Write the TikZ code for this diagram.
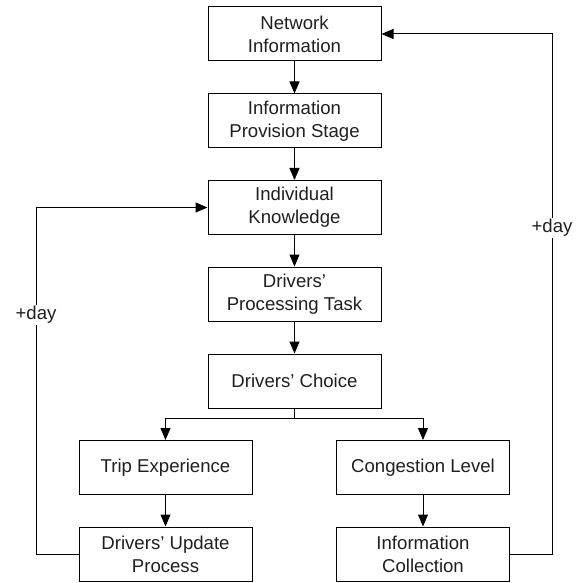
\documentclass[tikz,border=0pt]{standalone}
\usepackage{fontspec}
\setmainfont{Liberation Sans}
\usetikzlibrary{arrows.meta}
\begin{document}
\begin{tikzpicture}[x=1pt,y=-1pt,
  box/.style={draw,line width=1pt,minimum width=173pt,minimum height=54pt,inner sep=0pt,align=center,
    font=\fontsize{18.6}{23}\selectfont,text=black!88},
  conn/.style={line width=1pt,-{Triangle[length=12pt,width=10pt]}},
  lbl/.style={fill=white,inner sep=1pt,font=\fontsize{18.6}{23}\selectfont,text=black!88}]
\useasboundingbox (0,0) rectangle (584,583);
\node[box] (ni) at (294.5,34) {Network\\Information};
\node[box] (ips) at (294.5,121) {Information\\Provision Stage};
\node[box] (ik) at (294.5,207.5) {Individual\\Knowledge};
\node[box] (dpt) at (294.5,294) {Drivers’\\Processing Task};
\node[box] (dc) at (294.5,381) {Drivers’ Choice};
\node[box] (te) at (165.5,467.5) {Trip Experience};
\node[box] (cl) at (423,467.5) {Congestion Level};
\node[box] (dup) at (165.5,554) {Drivers’ Update\\Process};
\node[box] (ic) at (423,554) {Information\\Collection};
\coordinate (br) at (294.5,418);
\coordinate (ll) at (36,554);
\coordinate (lt) at (36,207.5);
\coordinate (rl) at (552,554);
\coordinate (rt) at (552,34);
\draw[conn] (ni) -- (ips);
\draw[conn] (ips) -- (ik);
\draw[conn] (ik) -- (dpt);
\draw[conn] (dpt) -- (dc);
\draw[line width=1pt] (dc) -- (br);
\draw[conn] (br) -| (te);
\draw[conn] (br) -| (cl);
\draw[conn] (te) -- (dup);
\draw[conn] (cl) -- (ic);
\draw[conn] (dup.west) -- (ll) -- (lt) -- (ik.west);
\draw[conn] (ic.east) -- (rl) -- (rt) -- (ni.east);
\node[lbl] (dl) at (36,315) {+day};
\node[lbl] (dr) at (552,228) {+day};
\end{tikzpicture}
\end{document}
